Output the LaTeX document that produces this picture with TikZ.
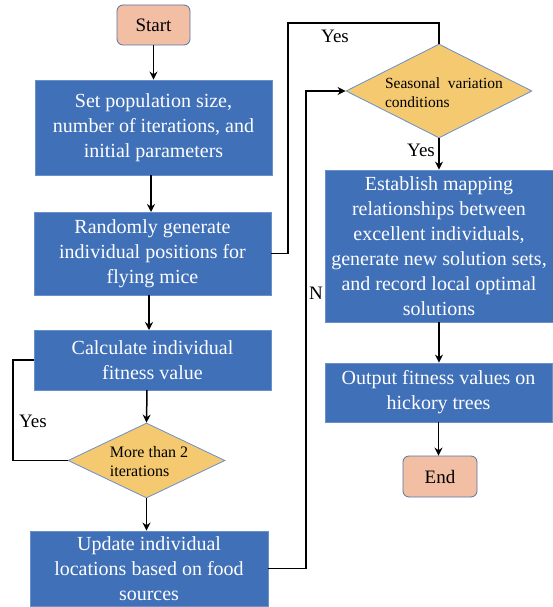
\documentclass[tikz,border=0pt]{standalone}
\usepackage{fontspec}
\setmainfont{Liberation Serif}
\usetikzlibrary{shapes.geometric,arrows.meta}
\definecolor{boxfill}{HTML}{4070B8}
\definecolor{boxline}{HTML}{6A90CC}
\definecolor{diafill}{HTML}{F4C970}
\definecolor{termfill}{HTML}{F3BFA4}
\begin{document}
\begin{tikzpicture}[x=1pt,y=-1pt,
  procbox/.style={draw=boxline,line width=0.8pt,fill=boxfill,text=white,align=center,
    font=\fontsize{20}{25}\selectfont,inner sep=0pt},
  termbox/.style={draw=boxline!80!black,line width=0.8pt,fill=termfill,rounded corners=6pt,
    font=\fontsize{19}{23}\selectfont,inner sep=0pt},
  decision/.style={diamond,draw=boxline,line width=0.8pt,fill=diafill,inner sep=0pt,aspect=2,
    align=left},
  conn/.style={draw=black,line width=1.5pt},
  arr/.style={conn,-{Stealth[length=8pt,width=8pt]}},
  lbl/.style={font=\fontsize{19}{22}\selectfont,inner sep=0pt}]
\useasboundingbox (0,0) rectangle (553,607);
\node[termbox,minimum width=73pt,minimum height=40pt] (start) at (153.5,25) {Start};
\node[procbox,minimum width=237pt,minimum height=95pt] (b1) at (153.5,127.5)
  {Set population size,\\number of iterations, and\\initial parameters};
\node[procbox,minimum width=237pt,minimum height=83pt] (b2) at (152.5,253.5)
  {Randomly generate\\individual positions for\\flying mice};
\node[procbox,minimum width=237pt,minimum height=60pt] (b3) at (152.5,360)
  {Calculate individual\\fitness value};
\node[decision,minimum width=157pt,minimum height=75pt] (d1) at (146.5,460.5) {};
\node[font=\fontsize{16}{19}\selectfont,align=left,inner sep=0pt] (t1) at (149,462)
  {More than 2\\iterations};
\node[procbox,minimum width=238pt,minimum height=75pt] (b4) at (149,568.5)
  {Update individual\\locations based on food\\sources};
\node[decision,minimum width=186pt,minimum height=94pt] (d2) at (439,91) {};
\node[font=\fontsize{15.5}{19}\selectfont,align=left,inner sep=0pt] (t2) at (444,93)
  {Seasonal\ \ variation\\conditions};
\node[procbox,minimum width=228pt,minimum height=152pt] (b5) at (439,246)
  {Establish mapping\\relationships between\\excellent individuals,\\generate new solution sets,\\and record local optimal\\solutions};
\node[procbox,minimum width=227pt,minimum height=59pt] (b6) at (438.5,392.5)
  {Output fitness values on\\hickory trees};
\node[termbox,minimum width=74pt,minimum height=41pt] (end) at (440,476.5) {End};
% coordinates for bends
\coordinate (c1) at (288,23);
\coordinate (c2) at (306,91);
\coordinate (c3) at (13,360);
% arrows
\draw[arr] (start.south) -- (start.south |- b1.north);
\draw[arr] (151,175) -- (151,212);
\draw[arr] (149,295) -- (149,330);
\draw[arr] (147,390) -- (d1.north);
\draw[arr] (d1.south) -- (d1.south |- b4.north);
\draw[conn] (b2.east) -| (c1) -| (d2.north);
\draw[arr] (b4.east) -| (c2) -- (d2.west);
\draw[conn] (b3.west) -| (c3) |- (d1.west);
\draw[arr] (d2.south) -- (d2.south |- b5.north);
\draw[arr] (b5.south) -- (b5.south |- b6.north);
\draw[arr] (b6.south) -- (b6.south |- end.north);
% labels
\node[lbl] (y1) at (335,36) {Yes};
\node[lbl] (y2) at (421,150) {Yes};
\node[lbl] (n1) at (316,293) {N};
\node[lbl] (y3) at (33,421) {Yes};
\end{tikzpicture}
\end{document}
